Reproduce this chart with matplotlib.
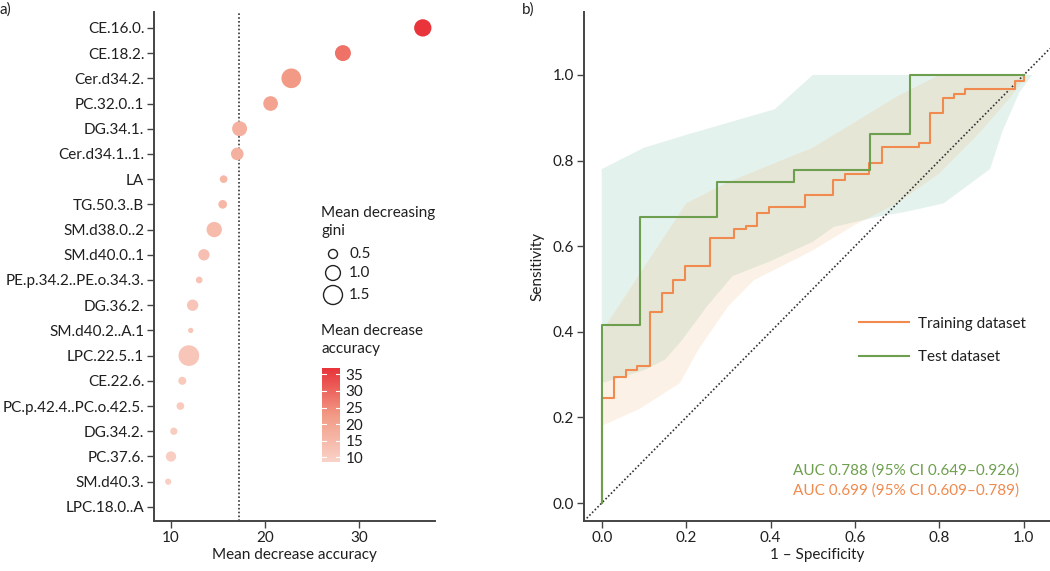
import numpy as np
import matplotlib.pyplot as plt
from matplotlib.colors import LinearSegmentedColormap, Normalize
from matplotlib.lines import Line2D

plt.rcParams["font.family"] = ["Lato", "DejaVu Sans"]
plt.rcParams["font.size"] = 11

# --- panel a: variable importance ---
lipids = ["CE.16.0.", "CE.18.2.", "Cer.d34.2.", "PC.32.0..1", "DG.34.1.",
          "Cer.d34.1..1.", "LA", "TG.50.3..B", "SM.d38.0..2", "SM.d40.0..1",
          "PE.p.34.2..PE.o.34.3.", "DG.36.2.", "SM.d40.2..A.1", "LPC.22.5..1",
          "CE.22.6.", "PC.p.42.4..PC.o.42.5.", "DG.34.2.", "PC.37.6.",
          "SM.d40.3.", "LPC.18.0..A"]
mean_dec_acc = [36.8, 28.3, 22.8, 20.6, 17.3, 17.05, 15.6, 15.5, 14.6, 13.5,
                13.0, 12.3, 12.1, 11.9, 11.2, 11.0, 10.3, 10.0, 9.7, np.nan]
mean_dec_gini = [1.28, 1.12, 1.59, 0.98, 1.01, 0.78, 0.42, 0.48, 1.05, 0.67,
                 0.37, 0.67, 0.31, 1.74, 0.44, 0.42, 0.40, 0.59, 0.35, np.nan]
acc_cutoff = 17.2
gini_legend = [0.5, 1.0, 1.5]
acc_ticks = [10, 15, 20, 25, 30, 35]

# --- panel b: ROC curves ---
fpr_train = [0, 0, 0.030, 0.0575, 0.083, 0.114, 0.142, 0.170, 0.198, 0.256,
             0.3125, 0.342, 0.369, 0.397, 0.482, 0.549, 0.576, 0.634, 0.664,
             0.751, 0.778, 0.808, 0.835, 0.860, 0.980, 1.0]
tpr_train = [0, 0.245, 0.295, 0.310, 0.319, 0.447, 0.491, 0.520, 0.553, 0.618,
             0.639, 0.646, 0.677, 0.691, 0.720, 0.755, 0.768, 0.794, 0.832,
             0.840, 0.911, 0.947, 0.956, 0.966, 0.985, 1.0]
fpr_test = [0, 0, 0.091, 0.273, 0.455, 0.636, 0.730, 1.0]
tpr_test = [0, 0.417, 0.667, 0.750, 0.778, 0.861, 1.0, 1.0]

# confidence bands (upper / lower outlines)
ci_test_up_x = [0, 0.10, 0.20, 0.41, 0.50, 1.02]
ci_test_up_y = [0.78, 0.83, 0.86, 0.92, 1.0, 1.0]
ci_test_lo_x = [0, 0.10, 0.15, 0.19, 0.25, 0.31, 0.40, 0.50, 0.55, 0.66,
                0.72, 0.81, 0.92, 0.95, 0.99, 1.02]
ci_test_lo_y = [0.28, 0.31, 0.335, 0.38, 0.46, 0.53, 0.565, 0.61, 0.645,
                0.67, 0.68, 0.70, 0.78, 0.87, 0.96, 1.0]
ci_train_up_x = [0, 0.10, 0.20, 0.30, 0.40, 0.50, 0.60, 0.70, 0.80, 1.0]
ci_train_up_y = [0.40, 0.55, 0.70, 0.75, 0.79, 0.83, 0.89, 0.95, 1.0, 1.0]
ci_train_lo_x = [0, 0.09, 0.185, 0.23, 0.30, 0.36, 0.50, 0.60, 0.70, 0.80,
                 0.90, 0.97, 1.0]
ci_train_lo_y = [0.18, 0.22, 0.28, 0.36, 0.46, 0.52, 0.59, 0.65, 0.70, 0.77,
                 0.87, 0.95, 0.99]

auc_test = "AUC 0.788 (95% CI 0.649\u20130.926)"
auc_train = "AUC 0.699 (95% CI 0.609\u20130.789)"

W, H = 1050, 571


def fx(px):
    return px / W


def fy(py):
    return 1 - py / H


def gini_to_s(g):
    # marker area in pt^2, roughly matching ggplot size scale
    return 145 * (np.asarray(g, dtype=float) - 0.21)


fig = plt.figure(figsize=(10.5, 5.71), dpi=100)
spine_col = "#444444"
text_col = "#1f1f1f"
dot_style = (0, (1, 1.3))

cmap = LinearSegmentedColormap.from_list("reds", ["#FAD3C8", "#F29A85", "#E8343A"])
norm = Normalize(vmin=8.6, vmax=36.9)

# ---------------- panel a ----------------
ax1 = fig.add_axes([fx(154), fy(521), fx(435 - 154), (521 - 12) / H])
ypos = np.arange(len(lipids))[::-1]
ax1.scatter(mean_dec_acc, ypos, s=gini_to_s(mean_dec_gini),
            c=mean_dec_acc, cmap=cmap, norm=norm, edgecolors="none", zorder=3)
ax1.axvline(acc_cutoff, color="#333333", linestyle=dot_style, lw=1.2, zorder=1)
ax1.set_yticks(ypos)
ax1.set_yticklabels(lipids)
ax1.set_ylim(-0.56, len(lipids) - 1 + 0.63)
ax1.set_xlim(8.19, 38.1)
ax1.set_xticks([10, 20, 30])
ax1.set_xlabel("Mean decrease accuracy", color=text_col, labelpad=2)
for s in ["top", "right"]:
    ax1.spines[s].set_visible(False)
for s in ["left", "bottom"]:
    ax1.spines[s].set_color(spine_col)
    ax1.spines[s].set_linewidth(1.4)
ax1.tick_params(colors=spine_col, labelcolor=text_col, length=5, width=1, pad=2)

# legends drawn in a pixel-coordinate overlay
leg_ax = fig.add_axes([0, 0, 1, 1], facecolor="none")
leg_ax.set_xlim(0, W)
leg_ax.set_ylim(H, 0)
leg_ax.axis("off")
leg_ax.text(321, 222, "Mean decreasing\ngini", ha="left", va="center",
            color=text_col, linespacing=1.3)
for g, py in zip(gini_legend, [254, 273, 295]):
    leg_ax.scatter([333], [py], s=gini_to_s(g), facecolors="none",
                   edgecolors="#222222", linewidths=1)
    leg_ax.text(349, py, f"{g:.1f}", ha="left", va="center", color=text_col)
leg_ax.text(321, 340, "Mean decrease\naccuracy", ha="left", va="center",
            color=text_col, linespacing=1.3)

# colour bar
cax = fig.add_axes([fx(322), fy(462), fx(18), 94 / H])
grad = np.linspace(norm.vmin, norm.vmax, 256).reshape(-1, 1)
cax.imshow(grad, cmap=cmap, norm=norm, aspect="auto", origin="lower",
           extent=[0, 1, norm.vmin, norm.vmax])
cax.set_xlim(0, 1)
cax.set_ylim(norm.vmin, norm.vmax)
for v in acc_ticks:
    cax.plot([0, 0.2], [v, v], color="white", lw=0.8)
    cax.plot([0.8, 1], [v, v], color="white", lw=0.8)
cax.set_xticks([])
cax.set_yticks(acc_ticks)
cax.yaxis.tick_right()
cax.tick_params(axis="y", length=0, pad=4, labelcolor=text_col)
for s in cax.spines.values():
    s.set_visible(False)

# ---------------- panel b ----------------
ax2 = fig.add_axes([fx(584), fy(521), fx(W - 584), (521 - 12) / H])
ax2.fill(ci_test_up_x + ci_test_lo_x[::-1], ci_test_up_y + ci_test_lo_y[::-1],
         color="#269B71", alpha=0.12, lw=0)
ax2.fill(ci_train_up_x + ci_train_lo_x[::-1], ci_train_up_y + ci_train_lo_y[::-1],
         color="#EE9337", alpha=0.12, lw=0)
ax2.axline((0, 0), slope=1, color="#333333", linestyle=dot_style, lw=1.2)
ax2.plot(fpr_train, tpr_train, drawstyle="steps-post", color="#F08A4E", lw=1.5)
ax2.plot(fpr_test, tpr_test, drawstyle="steps-post", color="#6E9F4E", lw=1.5)
ax2.set_xlim(-0.042, 1.062)
ax2.set_ylim(-0.042, 1.147)
ax2.set_xticks(np.arange(0, 1.01, 0.2))
ax2.set_yticks(np.arange(0, 1.01, 0.2))
ax2.xaxis.set_major_formatter(plt.FormatStrFormatter("%.1f"))
ax2.yaxis.set_major_formatter(plt.FormatStrFormatter("%.1f"))
ax2.set_xlabel("1 \u2013 Specificity", color=text_col, labelpad=2)
ax2.set_ylabel("Sensitivity", color=text_col, labelpad=6)
for s in ["top", "right"]:
    ax2.spines[s].set_visible(False)
for s in ["left", "bottom"]:
    ax2.spines[s].set_color(spine_col)
    ax2.spines[s].set_linewidth(1.4)
ax2.tick_params(colors=spine_col, labelcolor=text_col, length=5, width=1, pad=2)

handles = [Line2D([], [], color="#F08A4E", lw=1.5),
           Line2D([], [], color="#6E9F4E", lw=1.5)]
ax2.legend(handles, ["Training dataset", "Test dataset"], frameon=False,
           loc="center left", bbox_to_anchor=(0.56, 0.355), handlelength=3.3,
           handletextpad=0.6, labelspacing=1.25, labelcolor=text_col)
ax2.text(0.99, 0.076, auc_test, color="#6E9F4E", ha="right", va="center")
ax2.text(0.99, 0.030, auc_train, color="#F08A4E", ha="right", va="center")

fig.text(0.0, fy(10), "a)", ha="left", va="center", color=text_col)
fig.text(fx(522), fy(10), "b)", ha="left", va="center", color=text_col)

fig.savefig("out.png", dpi=100)
